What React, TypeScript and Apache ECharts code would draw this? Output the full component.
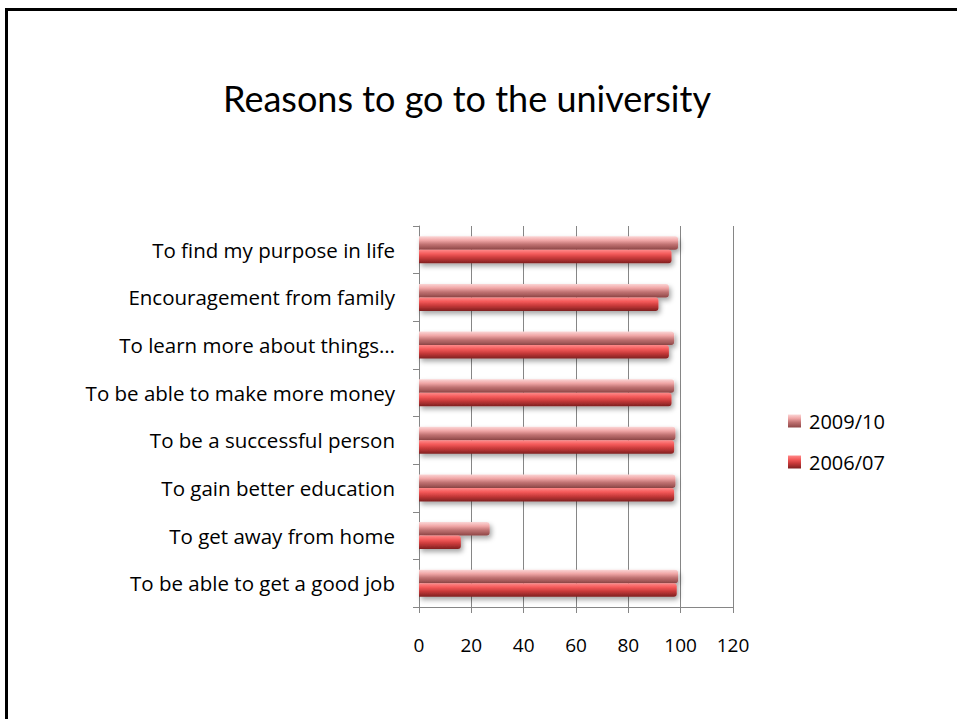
import React, { useEffect, useRef } from "react";
import * as echarts from "echarts";

const categories = [
  "To be able to get a good job",
  "To get away from home",
  "To gain better education",
  "To be a successful person",
  "To be able to make more money",
  "To learn more about things…",
  "Encouragement from family",
  "To find my purpose in life",
];
const series2009 = [99, 27, 98, 98, 97.5, 97.5, 95.5, 99];
const series2006 = [98.5, 16, 97.5, 97.5, 96.5, 95.5, 91.5, 96.5];
const seriesNames = ["2009/10", "2006/07"];
const xTicks = { min: 0, max: 120, interval: 20 };

const FONT = "'Open Sans', Lato, sans-serif";
const TITLE_FONT = "Lato, 'Open Sans', sans-serif";

const grad2009 = new echarts.graphic.LinearGradient(0, 0, 0, 1, [
  { offset: 0, color: "#fbd6d6" },
  { offset: 0.3, color: "#f0a6a6" },
  { offset: 0.6, color: "#c07272" },
  { offset: 1, color: "#8e4646" },
]);
const grad2006 = new echarts.graphic.LinearGradient(0, 0, 0, 1, [
  { offset: 0, color: "#ff8a8a" },
  { offset: 0.3, color: "#f45a5a" },
  { offset: 0.6, color: "#c83a3a" },
  { offset: 1, color: "#7e2020" },
]);

export default function App() {
  const ref = useRef<HTMLDivElement>(null);
  useEffect(() => {
    if (!ref.current) return;
    const chart = echarts.init(ref.current, null, { renderer: "svg" });
    const barStyle = (c: any) => ({
      color: c,
      borderRadius: [0, 3, 3, 0],
      shadowColor: "rgba(0,0,0,0.35)",
      shadowBlur: 5,
      shadowOffsetX: 2,
      shadowOffsetY: 3,
    });
    chart.setOption({
      animation: false,
      backgroundColor: "#ffffff",
      textStyle: { fontFamily: FONT },
      graphic: [
        {
          type: "rect",
          shape: { x: 6.5, y: 9.5, width: 2000, height: 2000 },
          style: { fill: "none", stroke: "#000", lineWidth: 3 },
          silent: true,
        },
        {
          type: "text",
          x: 467,
          y: 98,
          style: {
            text: "Reasons to go to the university",
            font: `36px ${TITLE_FONT}`,
            fill: "#000",
            align: "center",
            verticalAlign: "middle",
          },
        },
      ],
      legend: {
        orient: "vertical",
        left: 788,
        top: 410,
        padding: 0,
        itemWidth: 13,
        itemHeight: 13,
        itemGap: 19,
        icon: "rect",
        data: seriesNames,
        textStyle: { fontSize: 20, color: "#000", fontFamily: FONT, lineHeight: 22, padding: [0, 0, 0, 3] },
      },
      grid: { left: 419, right: 224, top: 226, bottom: 112, containLabel: false },
      xAxis: {
        type: "value",
        min: xTicks.min,
        max: xTicks.max,
        interval: xTicks.interval,
        axisLine: { show: true, lineStyle: { color: "#868686", width: 1 } },
        axisTick: { show: true, length: 6, lineStyle: { color: "#868686" } },
        splitLine: { show: true, lineStyle: { color: "#868686", width: 1 } },
        axisLabel: { color: "#000", fontSize: 19, margin: 28, fontFamily: FONT },
      },
      yAxis: {
        type: "category",
        data: categories,
        axisLine: { show: true, lineStyle: { color: "#868686", width: 1 } },
        axisTick: { show: true, length: 6, lineStyle: { color: "#868686" } },
        axisLabel: { color: "#000", fontSize: 20.5, margin: 24, fontFamily: FONT },
      },
      series: [
        {
          name: seriesNames[0],
          type: "bar",
          data: series2009,
          barWidth: 13.5,
          barGap: "0%",
          itemStyle: barStyle(grad2009),
        },
        {
          name: seriesNames[1],
          type: "bar",
          data: series2006,
          barWidth: 13.5,
          barGap: "0%",
          itemStyle: barStyle(grad2006),
        },
      ],
    });
    return () => chart.dispose();
  }, []);
  return (
    <div
      ref={ref}
      style={{ position: "fixed", left: 0, top: 0, width: 957, height: 719 }}
    />
  );
}
